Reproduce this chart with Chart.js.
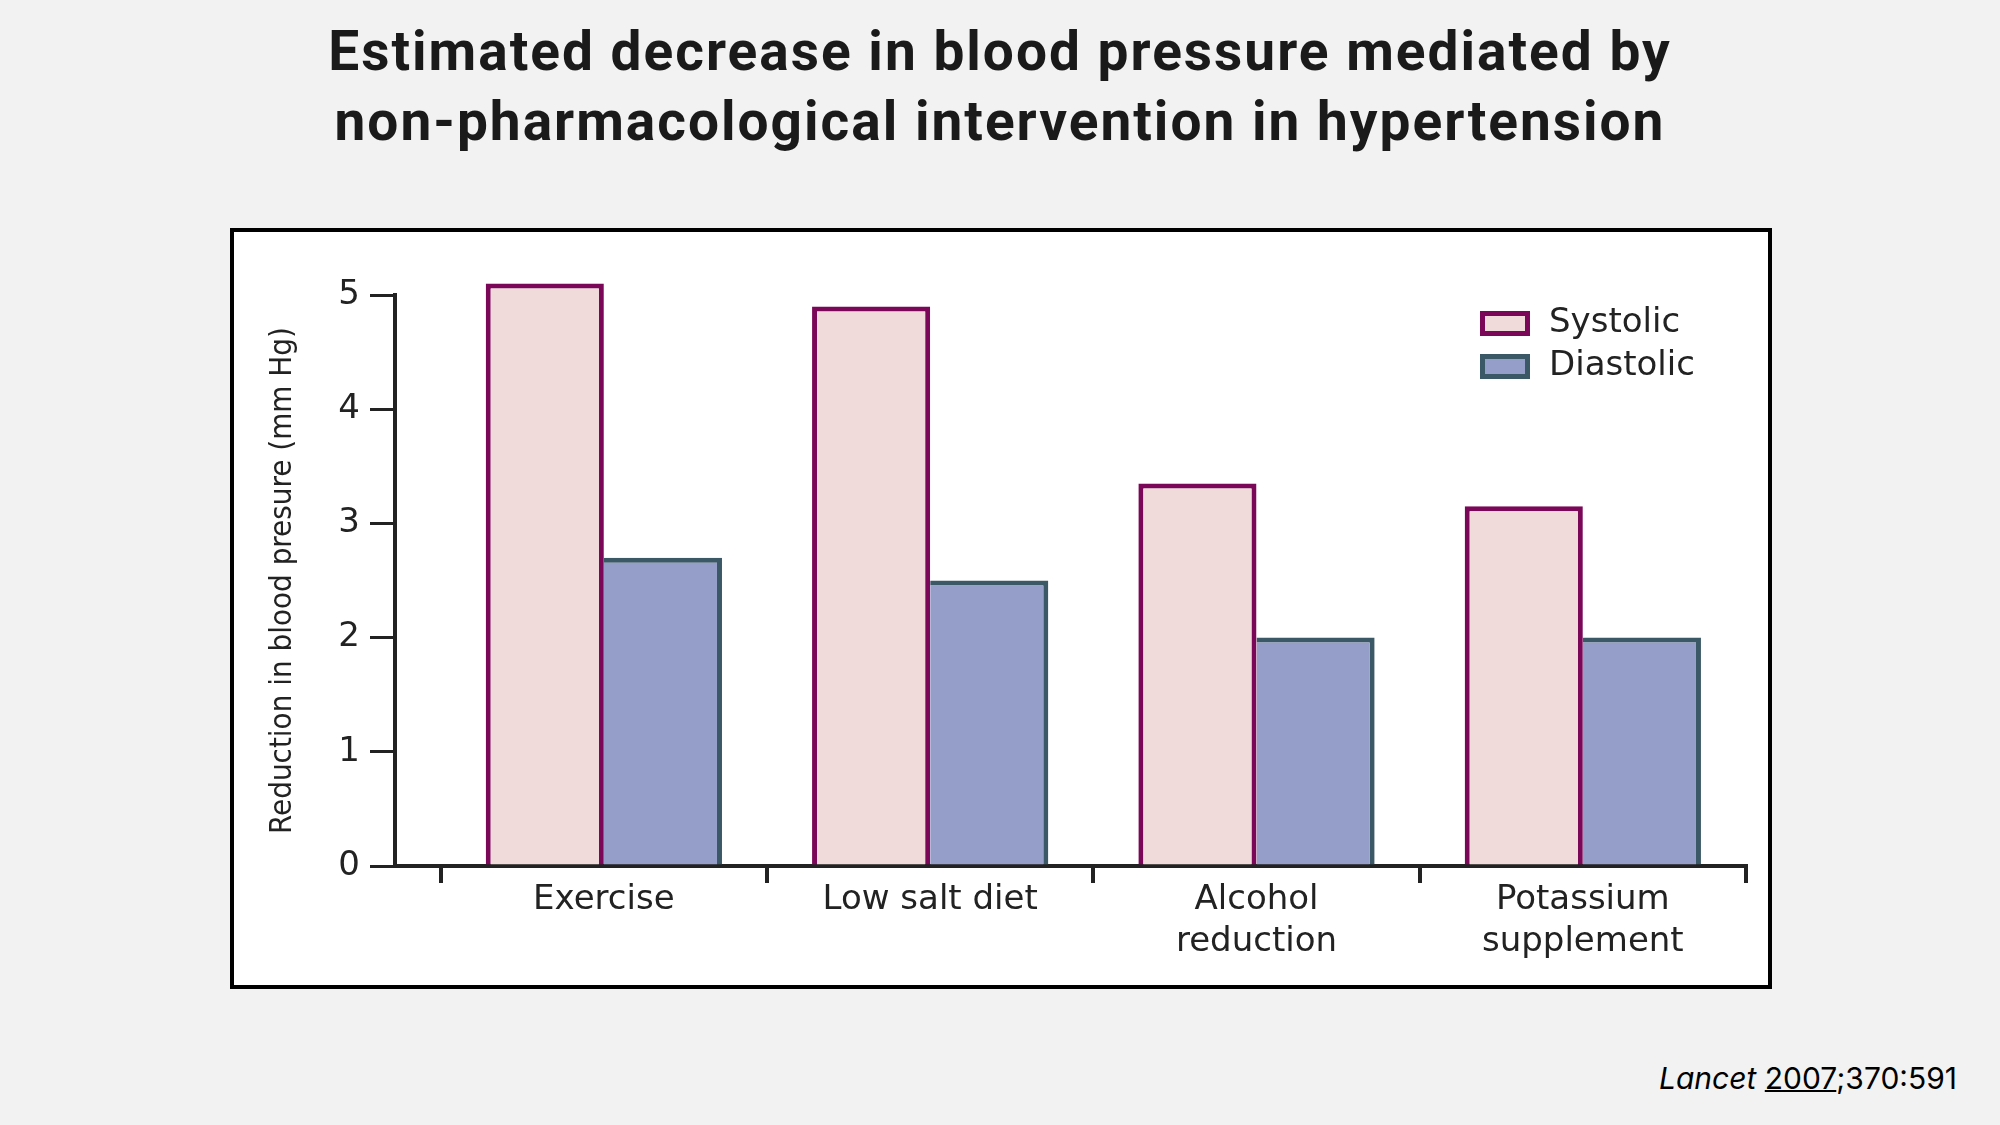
<!DOCTYPE html>
<html>
<head>
<meta charset="utf-8">
<title>Blood pressure reduction</title>
<script src="https://cdn.jsdelivr.net/npm/chart.js@4.4.1/dist/chart.umd.min.js"></script>
<style>
    html, body { margin: 0; padding: 0; }
    body {
        width: 2000px;
        height: 1125px;
        background: #f2f2f2;
        position: relative;
        overflow: hidden;
    }
    #title {
        position: absolute;
        left: 0;
        top: 16px;
        width: 2000px;
        text-align: center;
        font-family: Roboto, sans-serif;
        font-weight: 700;
        font-size: 55px;
        letter-spacing: 2px;
        line-height: 70px;
        color: #1a1a1a;
    }
    #frame {
        position: absolute;
        left: 230px;
        top: 228px;
        width: 1542px;
        height: 761px;
        box-sizing: border-box;
        border: 4px solid #000;
        background: #fff;
    }
    #chart-box { position: relative; width: 1534px; height: 753px; }
    #source {
        position: absolute;
        right: 43px;
        top: 1060px;
        font-family: Inter, sans-serif;
        font-size: 30px;
        line-height: 36px;
        color: #000;
    }
    #source u { text-decoration-thickness: 2px; }
</style>
</head>
<body>
<div id="title">Estimated decrease in blood pressure mediated by<br>non-pharmacological intervention in hypertension</div>
<div id="frame">
    <div id="chart-box"><canvas id="bp-chart"></canvas></div>
</div>
<div id="source"><i>Lancet</i> <u>2007</u>;370:591</div>

<script>
// data (mm Hg)
const categories = [['Exercise'], ['Low salt diet'], ['Alcohol', 'reduction'], ['Potassium', 'supplement']];
const systolic = [5.1, 4.9, 3.35, 3.15];
const diastolic = [2.7, 2.5, 2.0, 2.0];
const yTicks = [0, 1, 2, 3, 4, 5];

const labelFont = { family: "'DejaVu Sans', sans-serif", size: 34 };
const ink = '#222';

// category index -> {x, y} so the bars sit on a linear x axis
const toPoints = values => values.map((v, i) => ({ x: i, y: v }));

// legend drawn inside the plot, top right
const innerLegend = {
    id: 'innerLegend',
    afterDraw(chart) {
        const { ctx, chartArea } = chart;
        const left = chartArea.right - 266;
        let top = chartArea.top + 16;
        ctx.save();
        ctx.font = `${labelFont.size}px ${labelFont.family}`;
        ctx.textBaseline = 'middle';
        chart.data.datasets.forEach(ds => {
            ctx.fillStyle = ds.backgroundColor;
            ctx.fillRect(left, top, 50, 25);
            ctx.lineWidth = 5;
            ctx.strokeStyle = ds.borderColor;
            ctx.strokeRect(left + 2.5, top + 2.5, 45, 20);
            ctx.fillStyle = ink;
            ctx.fillText(ds.label, left + 69, top + 12);
            top += 43;
        });
        ctx.restore();
    }
};

const chart = new Chart(document.getElementById('bp-chart'), {
    type: 'bar',
    data: {
        datasets: [{
            label: 'Systolic',
            data: toPoints(systolic),
            backgroundColor: '#f0dbda',
            borderColor: '#7a0757',
            borderWidth: { top: 5, left: 5, right: 5, bottom: 0 },
            borderSkipped: false,
            clip: false
        }, {
            label: 'Diastolic',
            data: toPoints(diastolic),
            backgroundColor: '#949ec8',
            borderColor: '#3b5866',
            borderWidth: { top: 5, left: 0, right: 5, bottom: 0 },
            borderSkipped: false,
            clip: false
        }]
    },
    options: {
        responsive: true,
        maintainAspectRatio: false,
        animation: false,
        layout: { padding: { top: 63, right: 22, left: 0, bottom: 0 } },
        // the x ticks are half a category apart, so the bar ruler sees half-width slots
        categoryPercentage: 1.448,
        barPercentage: 1.0,
        plugins: {
            legend: { display: false },
            tooltip: { enabled: false }
        },
        scales: {
            x: {
                type: 'linear',
                offset: false,
                min: -0.64,
                max: 3.5,
                afterBuildTicks: scale => {
                    const ticks = [];
                    for (let i = 0; i < categories.length; i++) {
                        ticks.push({ value: i - 0.5 }, { value: i });
                    }
                    ticks.push({ value: categories.length - 0.5 });
                    scale.ticks = ticks;
                },
                afterFit: scale => { scale.height = 119; },
                ticks: {
                    autoSkip: false,
                    maxRotation: 0,
                    padding: -4,
                    color: ink,
                    font: { ...labelFont, lineHeight: 1.24 },
                    callback: value => Number.isInteger(value) ? categories[value] : ''
                },
                grid: {
                    offset: false,
                    drawOnChartArea: false,
                    drawTicks: true,
                    tickLength: 17,
                    lineWidth: 4,
                    color: ctx => (ctx.tick && !Number.isInteger(ctx.tick.value)) ? ink : 'rgba(0,0,0,0)'
                },
                border: { display: true, color: ink, width: 4 }
            },
            y: {
                min: 0,
                max: 5,
                afterBuildTicks: scale => { scale.ticks = yTicks.map(v => ({ value: v })); },
                afterFit: scale => { scale.width = 161; },
                ticks: {
                    padding: 10,
                    color: ink,
                    font: labelFont
                },
                grid: {
                    drawOnChartArea: false,
                    drawTicks: true,
                    tickLength: 25,
                    lineWidth: 3,
                    color: ink
                },
                border: { display: true, color: ink, width: 4 },
                title: {
                    display: true,
                    text: 'Reduction in blood presure (mm Hg)',
                    color: ink,
                    font: { family: "'Liberation Sans Narrow', 'DejaVu Sans Condensed', sans-serif", size: 31 },
                    padding: { top: 30, bottom: 0 }
                }
            }
        }
    },
    plugins: [innerLegend]
});
</script>
</body>
</html>
